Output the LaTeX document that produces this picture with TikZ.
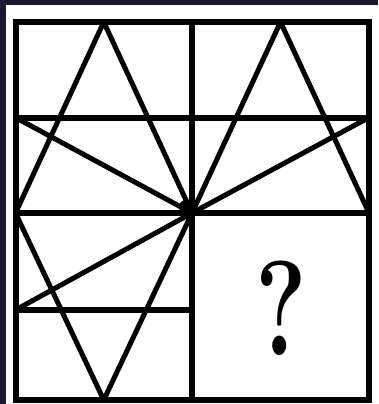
\documentclass[tikz,border=0pt]{standalone}
\definecolor{navy}{RGB}{28,24,50}
\begin{document}
\begin{tikzpicture}[x=1pt,y=-1pt,
  gridline/.style={line width=6pt, line cap=rect},
  haloline/.style={draw=gray!55, line width=6pt, line cap=rect},
  tri/.style={line width=5pt, line join=round, line cap=round}]
\useasboundingbox (0,0) rectangle (378,404);
\fill[navy] (0,0) rectangle (378,404);
\fill[white] (6,5) rectangle (378,404);
% grid coordinates
\coordinate (TL) at (15.5,22);
\coordinate (TR) at (369,22);
\coordinate (BLc) at (15.5,400);
\coordinate (BRc) at (369,400);
\coordinate (MT) at (192,22);
\coordinate (MB) at (192,400);
\coordinate (L1) at (15.5,117.5);
\coordinate (R1) at (369,117.5);
\coordinate (L2) at (15.5,213);
\coordinate (R2) at (369,213);
\coordinate (L3) at (15.5,310);
\coordinate (M3) at (192,310);
\coordinate (C) at (192,213);
\coordinate (A1) at (103.75,22);
\coordinate (A2) at (280.5,22);
\coordinate (A3) at (103.75,400);
% scan halo
\begin{scope}[shift={(-5,-5)}]
  \draw[haloline] (TL) rectangle (BRc);
  \draw[haloline] (MT) -- (MB);
  \draw[haloline] (L1) -- (R1);
  \draw[haloline] (L2) -- (R2);
  \draw[haloline] (L3) -- (M3);
\end{scope}
% triangles and rays
\draw[tri] (L2) -- (A1) -- (C);
\draw[tri] (C) -- (A2) -- (R2);
\draw[tri] (L2) -- (A3) -- (C);
\draw[tri] (L1) -- (C) -- (L3);
\draw[tri] (C) -- (R1);
\fill (C) ++(-6,-6) circle (7pt);
% grid
\draw[gridline] (TL) rectangle (BRc);
\draw[gridline] (MT) -- (MB);
\draw[gridline] (L1) -- (R1);
\draw[gridline] (L2) -- (R2);
\draw[gridline] (L3) -- (M3);
% question mark
\node[font=\fontsize{135}{135}\selectfont\bfseries, xscale=0.72, inner sep=0pt] (q) at (281,308) {?};
\end{tikzpicture}
\end{document}
